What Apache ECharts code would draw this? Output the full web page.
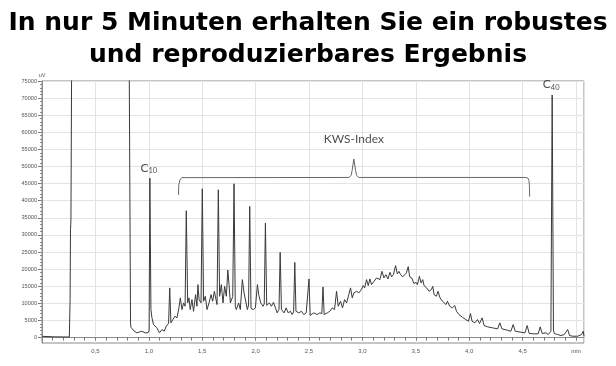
<!DOCTYPE html>
<html><head><meta charset="utf-8">
<script src="https://cdn.jsdelivr.net/npm/echarts@6/dist/echarts.min.js"></script>
<style>html,body{margin:0;padding:0;background:#fff}#c{width:616px;height:366px}</style>
</head><body><div id="c"></div>
<script>
// Chromatogram trace: retention time (min) and detector signal (uV)
const time = [
0.000,0.120,0.256,0.263,0.267,0.271,0.277,0.300,0.550,0.800,0.817,0.829,0.833,0.841,0.863,0.888,0.910,0.935,0.952,0.966,0.992,
1.003,1.010,1.020,1.029,1.044,1.076,1.100,1.123,1.144,1.163,1.185,1.196,1.207,1.226,1.245,1.264,1.282,1.295,1.311,1.326,1.340,
1.351,1.364,1.376,1.388,1.404,1.419,1.438,1.451,1.460,1.471,1.489,1.501,1.513,1.529,1.545,1.564,1.583,1.598,1.614,1.639,1.651,
1.663,1.679,1.695,1.710,1.726,1.740,1.751,1.764,1.786,1.798,1.810,1.820,1.841,1.857,1.876,1.892,1.904,1.923,1.934,1.945,1.957,
1.979,1.998,2.017,2.029,2.048,2.070,2.081,2.092,2.104,2.129,2.148,2.167,2.186,2.202,2.219,2.230,2.242,2.267,2.286,2.305,2.326,
2.342,2.356,2.367,2.378,2.404,2.430,2.451,2.474,2.490,2.500,2.511,2.521,2.545,2.577,2.601,2.620,2.631,2.642,2.671,2.695,2.718,
2.739,2.758,2.774,2.795,2.814,2.833,2.852,2.873,2.889,2.905,2.920,2.946,2.967,2.990,3.008,3.021,3.039,3.055,3.070,3.086,3.108,
3.133,3.149,3.164,3.183,3.202,3.220,3.239,3.258,3.274,3.290,3.311,3.327,3.342,3.358,3.377,3.393,3.412,3.429,3.443,3.462,3.483,
3.502,3.515,3.534,3.549,3.565,3.577,3.602,3.624,3.646,3.659,3.671,3.693,3.708,3.727,3.750,3.765,3.783,3.796,3.818,3.843,3.865,
3.881,3.905,3.937,3.968,3.993,4.012,4.027,4.053,4.078,4.097,4.121,4.140,4.172,4.219,4.266,4.287,4.306,4.359,4.390,4.412,4.431,
4.484,4.522,4.543,4.562,4.609,4.646,4.665,4.684,4.719,4.740,4.765,4.777,4.789,4.797,4.828,4.859,4.890,4.922,4.940,4.968,5.015,
5.053,5.068,5.075
];
const signal = [
350,200,150,11100,31500,34400,76000,120000,160000,120000,78000,4000,3000,2540,1900,1370,1600,1840,1460,1370,1370,
2040,46600,8200,5840,3800,2830,1370,2340,1840,3300,4090,14500,4290,5250,6220,5750,8670,11590,8170,10130,9140,
37070,10130,11590,8170,11090,7680,12550,9140,15470,11090,10130,43490,10600,12060,8170,10130,12550,10600,13520,9630,43200,
12060,15470,10130,14970,12060,19700,15470,10130,12000,44950,9000,8170,10130,8170,16930,13050,12550,8170,9500,38330,8500,
8170,8670,15470,12550,10130,9140,9800,33480,9400,10130,9140,10300,8670,7210,8200,24900,8170,7210,8670,7210,7680,
6710,7500,21980,7680,7210,7680,6710,7210,7000,17130,6500,6220,7210,6710,7210,7000,14800,6710,7210,7680,8670,
8170,13520,9140,10600,8670,11090,10130,12550,14510,11590,13050,13520,13050,14010,15180,14510,16930,15180,17130,15470,16430,
17430,17890,16930,19350,17430,18390,17130,19060,17720,18390,21020,18590,19350,18390,17720,17890,18890,20720,17720,17430,15760,
16140,15470,17890,15970,16930,15180,14510,13520,14010,14970,12550,12060,13520,11590,10600,11090,9630,10600,9140,8670,9340,
7680,6710,5930,5250,4760,7010,4760,4290,5250,4090,5750,3500,3120,2830,2540,4290,2540,2130,1840,3790,1840,
1550,1370,3500,1170,1080,1080,3120,1170,1370,880,1840,70930,2200,1170,880,580,880,2340,580,380,380,
880,1840,380
];
// KWS-Index brace (annotation) in data coordinates
const braceTime  = [1.279,1.280,1.290,1.309,2.873,2.895,2.904,2.920,2.936,2.945,2.967,4.531,4.550,4.559,4.564,4.566];
const braceValue = [41700,44400,46000,46750,46800,47400,48900,52200,48900,47400,46800,46800,46600,45900,44400,41200];
// annotation labels
const annoNames = ['C10','C40','KWS-Index'];
const annoTime  = [1.010,4.777,2.920];
const annoValue = [46600,70930,52200];
// axis ticks
const xTickValues = [0.5,1.0,1.5,2.0,2.5,3.0,3.5,4.0,4.5,5.0];
const xTickLabels = ['0,5','1,0','1,5','2,0','2,5','3,0','3,5','4,0','4,5','min'];
const yTickValues = [0,5000,10000,15000,20000,25000,30000,35000,40000,45000,50000,55000,60000,65000,70000,75000];
const yTickLabels = ['0','5000','10000','15000','20000','25000','30000','35000','40000','45000','50000','55000','60000','65000','70000','75000'];

const xMinorTicks = []; for (let i = 1; i <= 50; i++) xMinorTicks.push(i / 10);
const yMinorTicks = []; for (let i = 0; i <= 75; i++) yMinorTicks.push(i * 1000);

const traceData = time.map((t, i) => [t, signal[i]]);
const braceData = braceTime.map((t, i) => [t, braceValue[i]]);
const annoData = annoNames.map((n, i) => {
  let fmt, extra = {};
  if (n === 'KWS-Index') { fmt = '{k|KWS-Index}'; extra = {distance: 13}; }
  else { fmt = '{c|C}{s|' + n.slice(1) + '}'; extra = {distance: 3, offset: [-1, 0]}; }
  return {value: [annoTime[i], annoValue[i]], label: Object.assign({formatter: fmt}, extra)};
});

const AX = '#8a8a8a', GRID = '#e3e3e3', LBL = '#555';
const chart = echarts.init(document.getElementById('c'), null, {renderer: 'canvas'});
chart.setOption({
  animation: false,
  title: {
    text: 'In nur 5 Minuten erhalten Sie ein robustes\nund reproduzierbares Ergebnis',
    left: 'center', top: 2,
    textStyle: {fontFamily: 'DejaVu Sans', fontWeight: 'bold', fontSize: 25, lineHeight: 32, color: '#000'}
  },
  grid: {left: 42, right: 32, top: 81, bottom: 23, show: true, borderColor: AX, borderWidth: 1, outerBoundsMode: 'none'},
  xAxis: [
    {type: 'value', min: 0, max: 5.075, interval: 0.5, position: 'bottom',
     axisLine: {show: true, lineStyle: {color: AX}}, axisTick: {show: false},
     axisLabel: {customValues: xTickValues, fontSize: 6, color: LBL, margin: 5, fontFamily: 'Liberation Sans',
       formatter: v => { const i = xTickValues.findIndex(x => Math.abs(x - v) < 1e-6); return i >= 0 ? xTickLabels[i] : ''; }},
     splitLine: {show: true, lineStyle: {color: GRID, width: 1}}},
    {type: 'value', min: 0, max: 5.075, position: 'bottom',
     axisLine: {show: false}, axisTick: {show: true, customValues: xMinorTicks, length: 3, lineStyle: {color: '#777'}},
     axisLabel: {show: false}, splitLine: {show: false}}
  ],
  yAxis: [
    {type: 'value', min: -1600, max: 75000, position: 'left',
     name: 'uV', nameLocation: 'end', nameGap: 2, nameTextStyle: {fontSize: 5.5, color: LBL, fontFamily: 'Liberation Sans'},
     axisLine: {show: true, lineStyle: {color: AX}},
     axisTick: {show: true, customValues: yTickValues, length: 4, lineStyle: {color: '#777'}},
     axisLabel: {customValues: yTickValues, fontSize: 5.6, color: LBL, margin: 5, fontFamily: 'Liberation Sans',
       formatter: v => { const i = yTickValues.indexOf(Math.round(v)); return i >= 0 ? yTickLabels[i] : ''; }},
     splitLine: {show: true, lineStyle: {color: GRID, width: 1}}},
    {type: 'value', min: -1600, max: 75000, position: 'left',
     axisLine: {show: false}, axisTick: {show: true, customValues: yMinorTicks, length: 2, lineStyle: {color: '#888'}},
     axisLabel: {show: false}, splitLine: {show: false}}
  ],
  series: [
    {type: 'line', name: 'trace', data: traceData, symbol: 'none', clip: true, silent: true,
     lineStyle: {color: '#3a3a3a', width: 1}},
    {type: 'line', name: 'brace', data: braceData, symbol: 'none', silent: true,
     lineStyle: {color: '#666', width: 1}},
    {type: 'scatter', name: 'labels', data: annoData, symbolSize: 1, itemStyle: {color: 'rgba(0,0,0,0)'}, silent: true,
     label: {show: true, position: 'top', color: '#222', fontFamily: 'Lato',
       rich: {c: {fontSize: 12, fontFamily: 'Lato', color: '#222'},
              s: {fontSize: 7.5, fontFamily: 'Lato', color: '#222', padding: [6, 0, 0, 0]},
              k: {fontSize: 12, fontFamily: 'Lato', color: '#222'}}}}
  ]
});
</script></body></html>
